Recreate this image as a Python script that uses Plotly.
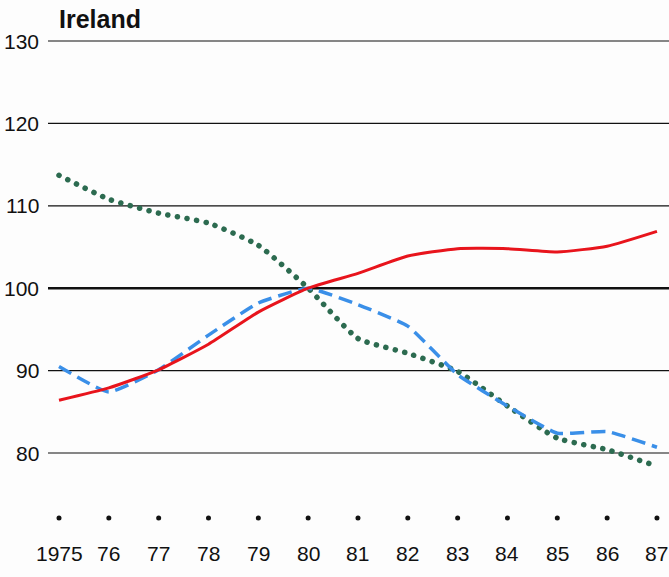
import plotly.graph_objects as go

years = [1975, 1976, 1977, 1978, 1979, 1980, 1981, 1982, 1983, 1984, 1985, 1986, 1987]
year_labels = ["1975", "76", "77", "78", "79", "80", "81", "82", "83", "84", "85", "86", "87"]
red_series = [86.4, 87.9, 90.1, 93.2, 97.1, 100.0, 101.8, 103.9, 104.8, 104.8, 104.4, 105.1, 106.9]
blue_series = [90.5, 87.4, 90.1, 94.3, 98.2, 100.0, 98.0, 95.4, 89.5, 85.7, 82.4, 82.6, 80.7]
green_series = [113.7, 110.8, 109.1, 107.9, 105.2, 100.0, 93.9, 92.1, 89.9, 85.7, 81.8, 80.4, 78.4]
y_ticks = [80, 90, 100, 110, 120, 130]

W, H = 669, 577
px_per_year = 49.83
x0 = 1975 - 59 / px_per_year
x1 = x0 + W / px_per_year
px_per_unit = 8.24
ytop = 130 + 41 / px_per_unit
ybot = ytop - H / px_per_unit

fig = go.Figure()

# gridlines
grid_start = 1975 - 11 / px_per_year
for v in y_ticks:
    fig.add_shape(type="line", xref="x", yref="y", x0=grid_start, x1=x1, y0=v, y1=v,
                  line=dict(color="#111111", width=2.4 if v == 100 else 1.2), layer="below")

fig.add_trace(go.Scatter(x=years, y=green_series, mode="lines",
                         line=dict(color="#2c6b50", width=5.5, dash="5px,5px", shape="spline", smoothing=0.5)))
fig.add_trace(go.Scatter(x=years, y=blue_series, mode="lines",
                         line=dict(color="#3a8fe8", width=3.5, dash="14px,7px", shape="spline", smoothing=0.4)))
fig.add_trace(go.Scatter(x=years, y=red_series, mode="lines",
                         line=dict(color="#e8141c", width=3, shape="spline", smoothing=0.5)))

# x tick dots
dot_y = 130 - (518 - 41) / px_per_unit
fig.add_trace(go.Scatter(x=years, y=[dot_y] * len(years), mode="markers",
                         marker=dict(color="#111111", size=5)))

label_font = dict(family="Liberation Sans, Arial", size=21, color="#111111")
lab_y = 130 - (553 - 41) / px_per_unit
for yr, lab in zip(years, year_labels):
    fig.add_annotation(x=yr, y=lab_y, text=lab, showarrow=False, xref="x", yref="y",
                       xanchor="center", yanchor="middle", font=label_font)

ylab_x = x0 + 41 / px_per_year
for v in y_ticks:
    fig.add_annotation(x=ylab_x, y=v, text=str(v), showarrow=False, xref="x", yref="y",
                       xanchor="right", yanchor="middle", font=label_font)

fig.add_annotation(x=x0 + 57 / px_per_year, y=130 + 22 / px_per_unit, text="<b>Ireland</b>",
                   showarrow=False, xref="x", yref="y", xanchor="left", yanchor="middle",
                   font=dict(family="Liberation Sans, Arial", size=25, color="#111111"))

fig.update_layout(width=W, height=H, margin=dict(l=0, r=0, t=0, b=0),
                  paper_bgcolor="#fdfdfd", plot_bgcolor="#fdfdfd", showlegend=False,
                  xaxis=dict(range=[x0, x1], visible=False, fixedrange=True),
                  yaxis=dict(range=[ybot, ytop], visible=False, fixedrange=True))

post = (
    "document.body.style.margin='0';document.body.style.overflow='hidden';"
    "var t=document.querySelectorAll('.scatterlayer .trace');"
    "if(t.length){var p=t[0].querySelector('path.js-line');"
    "if(p){p.style.strokeLinecap='round';p.style.strokeDasharray='0.1px,9.6px';}}"
)
fig.write_html("out.html", config={"displayModeBar": False}, post_script=post)
